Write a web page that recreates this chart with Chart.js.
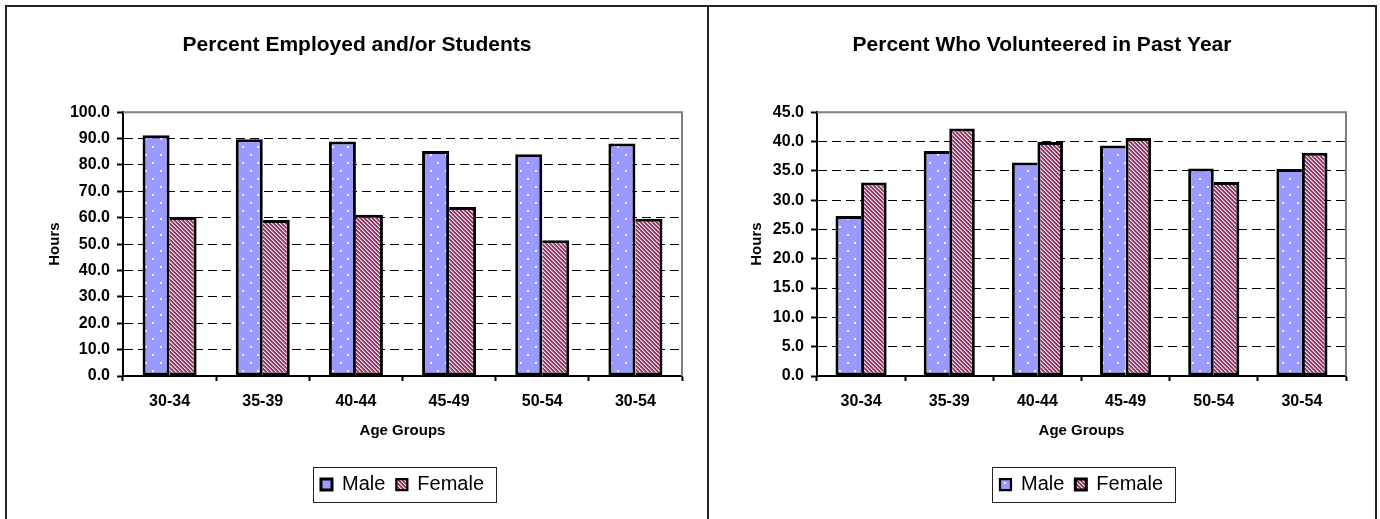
<!DOCTYPE html>
<html>
<head>
<meta charset="utf-8">
<script src="https://cdn.jsdelivr.net/npm/chart.js@4.4.1/dist/chart.umd.min.js"></script>
<style>
  body { margin: 0; background: #fff; }
  #frame { position: absolute; left: 5px; top: 5px; width: 1372px; height: 600px; border: 2px solid #222; box-sizing: border-box; }
  #divider { position: absolute; left: 707px; top: 5px; width: 2px; height: 600px; background: #222; }
  canvas { position: absolute; top: 7px; }
  #employed { left: 7px; }
  #volunteer { left: 709px; }
</style>
</head>
<body>
<div id="frame"></div>
<div id="divider"></div>
<canvas id="employed" width="700" height="512"></canvas>
<canvas id="volunteer" width="666" height="512"></canvas>
<script>
// values
var ageGroups = ['30-34', '35-39', '40-44', '45-49', '50-54', '30-54'];
var employedMale = [91.3, 89.7, 88.9, 85.3, 84.1, 88.1];
var employedFemale = [60.3, 59.1, 61.1, 64.1, 51.5, 59.6];
var volunteerMale = [27.3, 38.4, 36.4, 39.3, 35.4, 35.3];
var volunteerFemale = [33.0, 42.2, 39.9, 40.6, 33.1, 38.1];

Chart.defaults.font.family = '"Liberation Sans", Arial, sans-serif';
Chart.defaults.color = '#000';

// blue with white dots
function dotPattern() {
    var c = document.createElement('canvas');
    c.width = 15; c.height = 16;
    var g = c.getContext('2d');
    g.fillStyle = '#9999ff';
    g.fillRect(0, 0, 15, 16);
    g.fillStyle = '#f4f4ff';
    g.fillRect(3, 3, 2, 2);
    g.fillRect(10, 11, 2, 2);
    return g.createPattern(c, 'repeat');
}

// maroon with light diagonal stripes
function stripePattern() {
    var c = document.createElement('canvas');
    c.width = 4; c.height = 4;
    var g = c.getContext('2d');
    g.fillStyle = '#993366';
    g.fillRect(0, 0, 4, 4);
    for (var i = 0; i < 4; i++) {
        g.fillStyle = '#f8e4ee';
        g.fillRect(i, i, 1, 1);
        g.fillStyle = '#c98aa9';
        g.fillRect((i + 1) % 4, i, 1, 1);
    }
    return g.createPattern(c, 'repeat');
}

// gray top/right edge of the plot and the box round the legend
var framePlugin = {
    id: 'framePlugin',
    beforeDatasetsDraw: function (chart) {
        var ctx = chart.ctx, a = chart.chartArea;
        ctx.save();
        ctx.strokeStyle = '#808080';
        ctx.lineWidth = 2;
        ctx.beginPath();
        ctx.moveTo(a.left, a.top);
        ctx.lineTo(a.right, a.top);
        ctx.lineTo(a.right, a.bottom);
        ctx.stroke();
        ctx.restore();
    },
    afterDraw: function (chart) {
        var hb = chart.legend.legendHitBoxes;
        var l = Infinity, r = -Infinity, t = Infinity, b = -Infinity;
        hb.forEach(function (h) {
            l = Math.min(l, h.left); r = Math.max(r, h.left + h.width);
            t = Math.min(t, h.top); b = Math.max(b, h.top + h.height);
        });
        var ctx = chart.ctx;
        ctx.save();
        ctx.strokeStyle = '#222';
        ctx.lineWidth = 1;
        var x0 = Math.round(l - 8) + 0.5, y0 = Math.round(t - 7.5) + 0.5;
        ctx.strokeRect(x0, y0, Math.round(r + 12) - x0 + 0.5, Math.round(b + 7.5) - y0 + 0.5);
        ctx.restore();
    }
};

function makeChart(id, title, male, female, max, step, yWidth, rightGap) {
    var ctx = document.getElementById(id).getContext('2d');
    return new Chart(ctx, {
        type: 'bar',
        data: {
            labels: ageGroups,
            datasets: [{
                label: 'Male',
                data: male,
                backgroundColor: dotPattern(),
                borderColor: '#000',
                borderWidth: function (c) {
                    var i = c.dataIndex;
                    var right = (i === undefined || male[i] >= female[i]) ? 3 : 0;
                    return { top: 3, left: 3, bottom: 3, right: right };
                },
                borderSkipped: false
            }, {
                label: 'Female',
                data: female,
                backgroundColor: stripePattern(),
                borderColor: '#000',
                borderWidth: function (c) {
                    var i = c.dataIndex;
                    var left = (i === undefined || female[i] > male[i]) ? 3 : 0;
                    return { top: 3, left: left, bottom: 3, right: 3 };
                },
                borderSkipped: false
            }]
        },
        options: {
            responsive: false,
            animation: false,
            devicePixelRatio: 1,
            categoryPercentage: 0.58,
            barPercentage: 1.0,
            layout: { padding: { left: 0, right: 0, top: 0, bottom: 14.5 } },
            plugins: {
                title: {
                    display: true,
                    text: title,
                    font: { size: 21, weight: 'bold' },
                    color: '#000',
                    padding: { top: 26, bottom: 54 }
                },
                legend: {
                    position: 'bottom',
                    fullSize: false,
                    labels: {
                        font: { size: 20 },
                        color: '#000',
                        boxWidth: 11,
                        boxHeight: 11,
                        padding: 11
                    }
                },
                tooltip: { enabled: false }
            },
            scales: {
                x: {
                    grid: {
                        drawOnChartArea: false,
                        drawTicks: true,
                        tickLength: 5,
                        tickColor: '#000',
                        tickWidth: 2
                    },
                    border: { color: '#000', width: 2 },
                    ticks: { font: { size: 16, weight: 'bold' }, padding: 11, color: '#000' },
                    title: {
                        display: true,
                        text: 'Age Groups',
                        font: { size: 15, weight: 'bold' },
                        color: '#000',
                        padding: { top: 0, bottom: 23.5 }
                    },
                    afterFit: function (s) { s.height = 87.5; }
                },
                y: {
                    min: 0,
                    max: max,
                    grid: {
                        color: function (c) { return c.tick && c.tick.value === max ? 'rgba(0,0,0,0)' : '#000'; },
                        lineWidth: 1,
                        tickLength: 6,
                        tickColor: '#000',
                        tickWidth: 2,
                        tickBorderDash: []
                    },
                    border: { color: '#000', width: 2, dash: [9, 5] },
                    ticks: {
                        stepSize: step,
                        font: { size: 16, weight: 'bold' },
                        padding: 7,
                        color: '#000',
                        callback: function (v) { return v.toFixed(1); }
                    },
                    title: {
                        display: true,
                        text: 'Hours',
                        font: { size: 15, weight: 'bold' },
                        color: '#000',
                        padding: { top: 39, bottom: 0 }
                    },
                    afterFit: function (s) { s.width = yWidth; }
                },
                gap: {
                    position: 'right',
                    grid: { display: false },
                    border: { display: false },
                    ticks: { display: false },
                    afterFit: function (s) { s.width = rightGap; }
                }
            }
        },
        plugins: [framePlugin]
    });
}

var employedChart = makeChart('employed', 'Percent Employed and/or Students', employedMale, employedFemale, 100, 10, 116, 25);
var volunteerChart = makeChart('volunteer', 'Percent Who Volunteered in Past Year', volunteerMale, volunteerFemale, 45, 5, 108, 29);
</script>
</body>
</html>
